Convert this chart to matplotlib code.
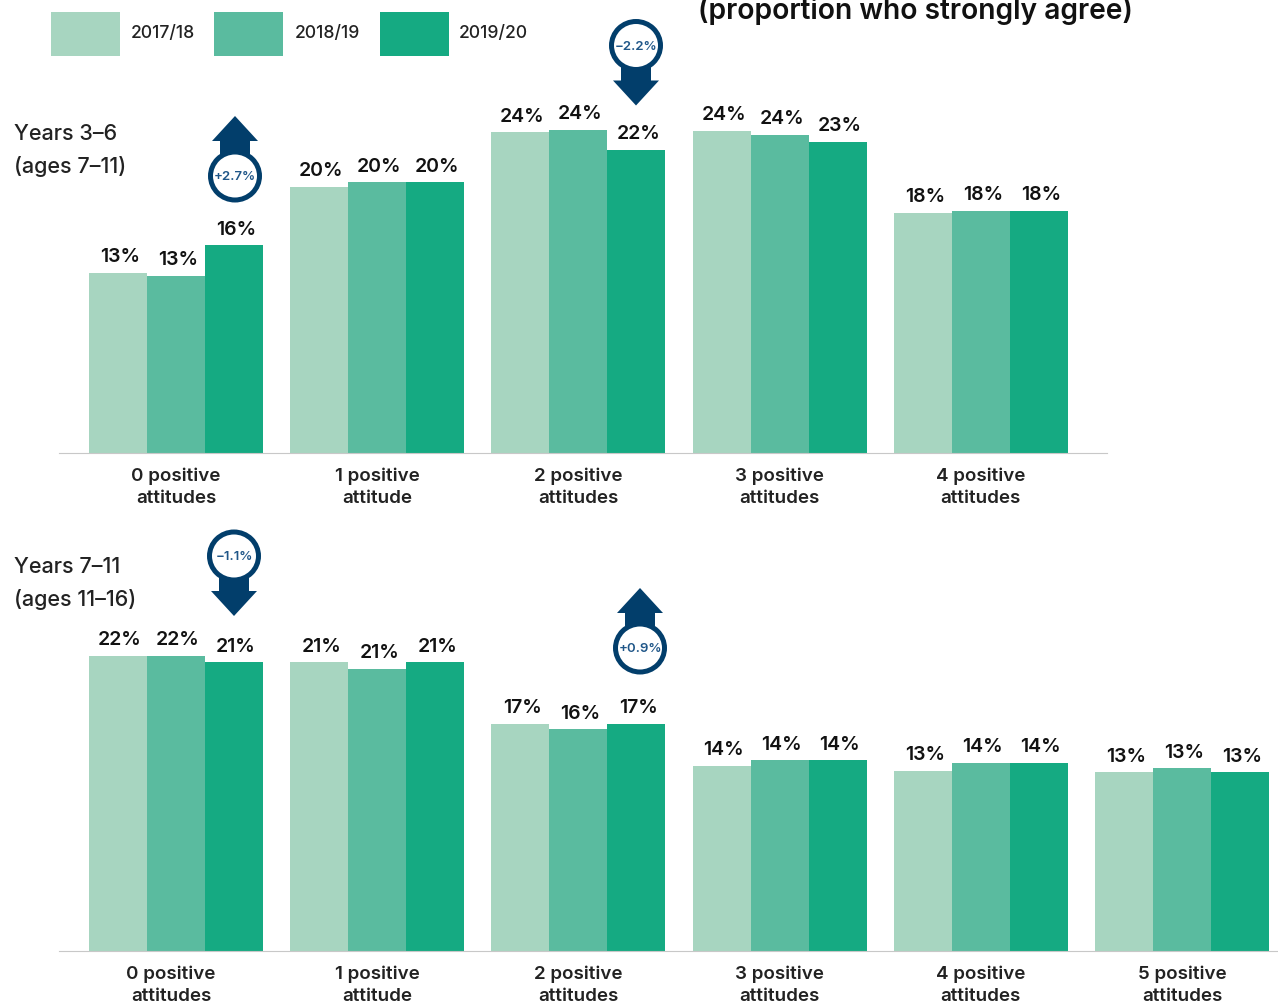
#!/usr/bin/env python
"""plot.py"""
import numpy as np
import matplotlib
matplotlib.use("Agg")
import matplotlib.pyplot as plt
from matplotlib.patches import Rectangle, Ellipse, Polygon

plt.rcParams['font.family'] = ['Inter', 'DejaVu Sans']

years = ["2017/18", "2018/19", "2019/20"]
colors = ["#a7d5c0", "#5abb9f", "#15aa82"]
navy = "#023e6b"

cats_top = ["0 positive\nattitudes", "1 positive\nattitude", "2 positive\nattitudes",
            "3 positive\nattitudes", "4 positive\nattitudes"]
cats_bottom = cats_top + ["5 positive\nattitudes"]

top_2017 = [13.4, 19.85, 23.9, 24.0, 17.9]
top_2018 = [13.2, 20.15, 24.1, 23.7, 18.05]
top_2019 = [15.45, 20.15, 22.6, 23.2, 18.05]
top_labels = [["13%", "20%", "24%", "24%", "18%"],
              ["13%", "20%", "24%", "24%", "18%"],
              ["16%", "20%", "22%", "23%", "18%"]]

bottom_2017 = [22.0, 21.5, 16.9, 13.8, 13.4, 13.3]
bottom_2018 = [22.0, 21.0, 16.5, 14.2, 14.0, 13.6]
bottom_2019 = [21.5, 21.5, 16.9, 14.2, 14.0, 13.3]
bottom_labels = [["22%", "21%", "17%", "14%", "13%", "13%"],
                 ["22%", "21%", "16%", "14%", "14%", "13%"],
                 ["21%", "21%", "17%", "14%", "14%", "13%"]]

W, H = 1278, 1003
fig = plt.figure(figsize=(W / 100, H / 100), dpi=100)

group_px = 201.2   # distance between groups
bar_w = 58 / group_px
first_px = 176


def draw_panel(series, labels, cats, right_px, base_px, cat_shift):
    ax = fig.add_axes([59 / W, 1 - base_px / H, (right_px - 59) / W, 340 / H])
    ax.set_xlim((59 - first_px) / group_px, (right_px - first_px) / group_px)
    ax.set_ylim(0, 340 / 13.4)
    x = np.arange(len(cats))
    for i, vals in enumerate(series):
        pos = x + (i - 1) * bar_w
        ax.bar(pos, vals, bar_w, color=colors[i])
        for p, v, t in zip(pos, vals, labels[i]):
            ax.annotate(t, (p, v), xytext=(1.5, 5.5), textcoords="offset points",
                        ha="center", va="bottom", fontsize=14, fontweight="semibold",
                        color="#111111", annotation_clip=False)
    for s in ["top", "left", "right"]:
        ax.spines[s].set_visible(False)
    ax.spines["bottom"].set_color("#c8c8c8")
    ax.set_yticks([])
    ax.set_xticks(x + np.array(cat_shift))
    ax.set_xticklabels(cats, fontsize=13.5, fontweight="semibold", color="#222222", linespacing=1.38)
    ax.tick_params(axis="x", length=0, pad=10)
    ax.patch.set_alpha(0)
    return ax


draw_panel([top_2017, top_2018, top_2019], top_labels, cats_top, 1107, 453.5, [0, 0, 0, 0, 0])
draw_panel([bottom_2017, bottom_2018, bottom_2019], bottom_labels, cats_bottom, 1278, 951.5,
           [-0.025, 0, 0, 0, 0, 0])

# overlay in pixel coords for legend, headings and change badges
ov = fig.add_axes([0, 0, 1, 1], zorder=5)
ov.set_xlim(0, W)
ov.set_ylim(H, 0)
ov.axis("off")

for left, text_x, c, y in zip([51, 214, 380], [131, 295, 459], colors, years):
    ov.add_patch(Rectangle((left, 12.5), 69, 44, color=c, lw=0))
    ov.text(text_x, 33, y, fontsize=12.6, fontweight="medium", va="center", color="#222222")

ov.text(698, 11, "(proportion who strongly agree)", fontsize=20.3, fontweight="semibold",
        va="center", color="#111111")
ov.text(14, 134, "Years 3–6", fontsize=15.5, fontweight="medium", va="center", color="#222222")
ov.text(14, 166, "(ages 7–11)", fontsize=15.5, fontweight="medium", va="center", color="#222222")
ov.text(14, 567, "Years 7–11", fontsize=15.5, fontweight="medium", va="center", color="#222222")
ov.text(14, 599, "(ages 11–16)", fontsize=15.5, fontweight="medium", va="center", color="#222222")


def badge(cx, cy, text, up):
    d = -1 if up else 1
    tip = cy + d * 60
    neck = cy + d * 35
    pts = [(cx - 15, cy), (cx - 15, neck), (cx - 23, neck), (cx, tip),
           (cx + 23, neck), (cx + 15, neck), (cx + 15, cy)]
    ov.add_patch(Polygon(pts, closed=True, color=navy, lw=0))
    ov.add_patch(Ellipse((cx, cy), 49, 48, facecolor="white", edgecolor=navy, lw=3.6))
    ov.text(cx, cy, text, fontsize=9.5, fontweight="semibold", color="#1f5688",
            ha="center", va="center")


badge(235, 177, "+2.7%", True)
badge(636, 46.5, "−2.2%", False)
badge(234, 557, "−1.1%", False)
badge(640, 649, "+0.9%", True)

fig.savefig("out.png", dpi=100)
